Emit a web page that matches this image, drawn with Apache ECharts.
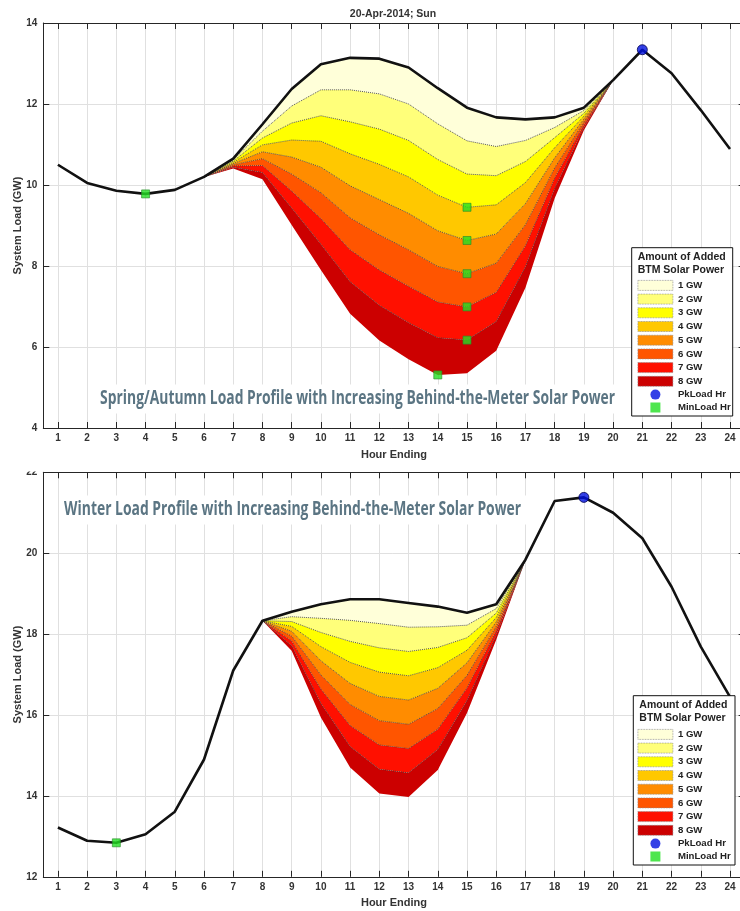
<!DOCTYPE html>
<html>
<head>
<meta charset="utf-8">
<script src="https://cdn.jsdelivr.net/npm/echarts@6/dist/echarts.min.js"></script>
<style>
  html, body { margin: 0; padding: 0; background: #fff; }
  #chart { width: 740px; height: 911px; }
</style>
</head>
<body>
<div id="chart"></div>
<script>
var hours = [1, 2, 3, 4, 5, 6, 7, 8, 9, 10, 11, 12, 13, 14, 15, 16, 17, 18, 19, 20, 21, 22, 23, 24];
var gwNames = ['1 GW', '2 GW', '3 GW', '4 GW', '5 GW', '6 GW', '7 GW', '8 GW'];
var gwColors = ['#ffffd9', '#ffff7a', '#ffff00', '#ffc800', '#ff8c00', '#ff5500', '#ff1000', '#cc0000'];

// spring / autumn day, GW
var springTicks = [4, 6, 8, 10, 12, 14];
var springLoad = [10.50, 10.05, 9.86, 9.78, 9.88, 10.20, 10.65, 11.50, 12.37, 12.98, 13.14, 13.12,
                  12.90, 12.39, 11.91, 11.67, 11.62, 11.67, 11.91, 12.59, 13.34, 12.76, 11.85, 10.89];
var springFirstHour = 6; // level arrays start at this hour
var spring1GW = [10.20, 10.62, 11.33, 11.95, 12.35, 12.35, 12.25, 12.00, 11.51, 11.09, 10.95, 11.10, 11.42, 11.84, 12.59];
var spring2GW = [10.20, 10.59, 11.16, 11.53, 11.71, 11.56, 11.38, 11.10, 10.63, 10.27, 10.23, 10.58, 11.17, 11.77, 12.59];
var spring3GW = [10.20, 10.56, 10.99, 11.11, 11.08, 10.77, 10.51, 10.20, 9.75, 9.45, 9.51, 10.06, 10.92, 11.70, 12.59];
var spring4GW = [10.20, 10.53, 10.82, 10.69, 10.44, 9.98, 9.64, 9.30, 8.87, 8.63, 8.79, 9.54, 10.67, 11.63, 12.59];
var spring5GW = [10.20, 10.50, 10.65, 10.27, 9.81, 9.19, 8.77, 8.40, 7.99, 7.81, 8.07, 9.02, 10.42, 11.56, 12.59];
var spring6GW = [10.20, 10.47, 10.48, 9.85, 9.17, 8.40, 7.90, 7.50, 7.11, 6.99, 7.35, 8.50, 10.17, 11.49, 12.59];
var spring7GW = [10.20, 10.44, 10.31, 9.43, 8.54, 7.61, 7.03, 6.60, 6.23, 6.17, 6.63, 7.98, 9.92, 11.42, 12.59];
var spring8GW = [10.20, 10.41, 10.14, 9.01, 7.90, 6.82, 6.16, 5.70, 5.31, 5.35, 5.91, 7.46, 9.67, 11.35, 12.59];

// winter day, GW
var winterTicks = [12, 14, 16, 18, 20, 22];
var winterLoad = [13.22, 12.89, 12.84, 13.05, 13.61, 14.90, 17.10, 18.33, 18.55, 18.74, 18.86, 18.86,
                  18.77, 18.68, 18.53, 18.74, 19.84, 21.29, 21.38, 21.00, 20.37, 19.17, 17.69, 16.45];
var winterFirstHour = 8;
var winter1GW = [18.33, 18.43, 18.39, 18.34, 18.26, 18.17, 18.18, 18.22, 18.63, 19.84];
var winter2GW = [18.33, 18.31, 18.04, 17.82, 17.66, 17.57, 17.67, 17.91, 18.52, 19.84];
var winter3GW = [18.33, 18.19, 17.69, 17.30, 17.06, 16.97, 17.17, 17.60, 18.41, 19.84];
var winter4GW = [18.33, 18.07, 17.34, 16.78, 16.46, 16.37, 16.66, 17.29, 18.30, 19.84];
var winter5GW = [18.33, 17.95, 16.99, 16.26, 15.86, 15.77, 16.16, 16.98, 18.19, 19.84];
var winter6GW = [18.33, 17.83, 16.64, 15.74, 15.26, 15.17, 15.65, 16.67, 18.08, 19.84];
var winter7GW = [18.33, 17.71, 16.29, 15.22, 14.66, 14.57, 15.15, 16.36, 17.97, 19.84];
var winter8GW = [18.33, 17.59, 15.94, 14.70, 14.06, 13.97, 14.64, 16.05, 17.86, 19.84];

var springNote = 'Spring/Autumn Load Profile with Increasing Behind-the-Meter Solar Power';
var winterNote = 'Winter Load Profile with Increasing Behind-the-Meter Solar Power';

var axisColor = '#262626';
var textColor = '#333';
var boldFont = 'Liberation Sans';
var noteFont = 'bold 19px "Open Sans", sans-serif';

function fullLevel(load, first, part) {
    return load.map(function (v, i) {
        var k = i + 1 - first;
        return (k >= 0 && k < part.length) ? part[k] : v;
    });
}

function pairs(xs, ys) {
    return ys.map(function (y, i) { return [xs[i], y]; });
}

function panelSeries(idx, load, first, parts) {
    var levels = parts.map(function (p) { return fullLevel(load, first, p); });
    var uppers = [load].concat(levels);
    var list = [];
    var ax = { xAxisIndex: idx * 3, yAxisIndex: idx * 2 };
    var catAx = { xAxisIndex: idx * 3 + 2, yAxisIndex: idx * 2 };

    // stacked bands on the hidden category axis
    list.push(Object.assign({
        name: 'base' + idx, type: 'line', stack: 'solar' + idx,
        data: levels[7], showSymbol: false, silent: true,
        lineStyle: { width: 0 }, z: 2
    }, catAx));
    for (var k = 7; k >= 0; k--) {
        var band = hours.map(function (h, i) { return +(uppers[k][i] - levels[k][i]).toFixed(4); });
        list.push(Object.assign({
            name: gwNames[k], type: 'line', stack: 'solar' + idx, data: band,
            showSymbol: false, silent: true, color: gwColors[k],
            lineStyle: { width: 0 }, areaStyle: { color: gwColors[k], opacity: 1 }, z: 2
        }, catAx));
    }
    // dotted edges between the bands
    var partHours = hours.slice(first - 1, first - 1 + parts[0].length);
    for (var j = 0; j < 7; j++) {
        list.push(Object.assign({
            name: 'edge' + idx + j, type: 'line', data: pairs(partHours, parts[j]),
            showSymbol: false, silent: true,
            lineStyle: { type: 'dotted', color: '#3a3a3a', width: 1, opacity: 0.85 }, z: 3
        }, ax));
    }
    list.push(Object.assign({
        name: 'load' + idx, type: 'line', data: pairs(hours, load), showSymbol: false,
        silent: true, lineStyle: { color: '#111', width: 2.6 }, z: 4
    }, ax));

    // peak hour of the load, and min hour of the load and of every solar level
    var pk = load.indexOf(Math.max.apply(null, load));
    var mins = [];
    uppers.forEach(function (arr) {
        var m = arr.indexOf(Math.min.apply(null, arr));
        var found = mins.some(function (p) { return p[0] === hours[m] && p[1] === arr[m]; });
        if (!found) mins.push([hours[m], arr[m]]);
    });
    list.push(Object.assign({
        name: 'PkLoad Hr', type: 'scatter', data: [[hours[pk], load[pk]]], symbol: 'circle',
        symbolSize: 10, itemStyle: { color: '#0010e0', borderColor: '#000050', borderWidth: 1 }, z: 6
    }, ax));
    list.push(Object.assign({
        name: 'MinLoad Hr', type: 'scatter', data: mins, symbol: 'rect',
        symbolSize: 8, itemStyle: { color: '#22e022', borderColor: '#2a8a2a', borderWidth: 0.8 }, z: 6
    }, ax));
    return list;
}

function xAxes(gridIndex) {
    var common = {
        gridIndex: gridIndex, type: 'value', min: 0.5, max: 24.5, splitNumber: 24,
        axisLine: { show: true, lineStyle: { color: axisColor, width: 1 } },
        axisTick: { show: true, inside: true, length: 6, lineStyle: { color: axisColor } }
    };
    return [
        Object.assign({}, common, {
            position: 'bottom',
            name: 'Hour Ending', nameLocation: 'middle', nameGap: 21,
            nameTextStyle: { color: textColor, fontSize: 11, fontWeight: 'bold', fontFamily: boldFont },
            axisLabel: {
                margin: 5, color: textColor, fontSize: 10, fontWeight: 'bold', fontFamily: boldFont,
                formatter: function (v) { return Number.isInteger(v) ? String(v) : ''; }
            },
            splitLine: { show: true, lineStyle: { color: '#e0e0e0', width: 1 } }
        }),
        Object.assign({}, common, {
            position: 'top', axisLabel: { show: false }, splitLine: { show: false }
        }),
        { gridIndex: gridIndex, type: 'category', data: hours, boundaryGap: true, show: false }
    ];
}

function yAxes(gridIndex, ticks) {
    var common = {
        gridIndex: gridIndex, type: 'value', min: ticks[0], max: ticks[ticks.length - 1],
        interval: ticks[1] - ticks[0],
        axisLine: { show: true, lineStyle: { color: axisColor, width: 1 } },
        axisTick: { show: true, inside: true, length: 6, lineStyle: { color: axisColor } }
    };
    return [
        Object.assign({}, common, {
            position: 'left',
            name: 'System Load (GW)', nameLocation: 'middle', nameGap: 20, nameMoveOverlap: false,
            nameTextStyle: { color: textColor, fontSize: 11, fontWeight: 'bold', fontFamily: boldFont },
            axisLabel: { margin: 6, color: textColor, fontSize: 10, fontWeight: 'bold', fontFamily: boldFont },
            splitLine: { show: true, lineStyle: { color: '#e0e0e0', width: 1 } }
        }),
        Object.assign({}, common, {
            position: 'right', axisLabel: { show: false }, splitLine: { show: false }
        })
    ];
}

function legendFor(top) {
    var items = gwNames.map(function (n, i) {
        return {
            name: n, icon: 'rect',
            itemStyle: { color: gwColors[i], borderColor: '#8a8a8a', borderWidth: 0.8, borderType: 'dotted' }
        };
    });
    items.push({ name: 'PkLoad Hr', icon: 'circle', itemStyle: { borderWidth: 0 } });
    items.push({ name: 'MinLoad Hr', icon: 'path://M0,0h10v10h-10z', itemStyle: { borderWidth: 0 } });
    return {
        data: items, orient: 'vertical', left: 637.5, top: top, padding: 0,
        itemWidth: 35, itemHeight: 10, itemGap: 2.9, selectedMode: false, z: 20,
        textStyle: { color: '#222', fontSize: 9.6, fontWeight: 'bold', fontFamily: boldFont, lineHeight: 10 }
    };
}

function legendBox(x, y, w, h) {
    return [
        { type: 'rect', shape: { x: x, y: y, width: w, height: h }, z: 10,
          style: { fill: '#fff', stroke: '#111', lineWidth: 1 } },
        { type: 'text', x: x + 6, y: y + 3, z: 21,
          style: { text: 'Amount of Added\nBTM Solar Power', fill: '#222', lineHeight: 13,
                   font: 'bold 10.5px ' + boldFont } }
    ];
}

// condensed look: squeeze the note text to the width it has in the figure
function note(text, x, y, width) {
    var ctx = document.createElement('canvas').getContext('2d');
    ctx.font = noteFont;
    var sx = width / ctx.measureText(text).width;
    return {
        type: 'text', x: x, y: y, z: 12, scaleX: sx,
        style: {
            text: text, fill: '#5b7583', font: noteFont,
            backgroundColor: '#fff', padding: [5, 7], verticalAlign: 'middle'
        }
    };
}

var chart = echarts.init(document.getElementById('chart'));

var option = {
    animation: false,
    backgroundColor: '#fff',
    grid: [
        { left: 43.3, top: 23, width: 701.3, height: 405, outerBoundsMode: 'none' },
        { left: 43.3, top: 472.3, width: 701.3, height: 404.5, outerBoundsMode: 'none' }
    ],
    xAxis: xAxes(0).concat(xAxes(1)),
    yAxis: yAxes(0, springTicks).concat(yAxes(1, winterTicks)),
    legend: [legendFor(280), legendFor(729)],
    graphic: [
        { type: 'text', x: 393, y: 14, z: 12,
          style: { text: '20-Apr-2014; Sun', fill: textColor, font: 'bold 10.5px ' + boldFont,
                   align: 'center', verticalAlign: 'middle' } },
        note(springNote, 95, 399, 515),
        note(winterNote, 59, 510, 457),
        { type: 'rect', shape: { x: 18, y: 459, width: 24, height: 12.5 }, z: 30,
          style: { fill: '#fff' } }
    ].concat(legendBox(631.7, 247.7, 101, 168.3)).concat(legendBox(633.3, 695.7, 101.7, 169.3)),
    series: panelSeries(0, springLoad, springFirstHour,
                        [spring1GW, spring2GW, spring3GW, spring4GW, spring5GW, spring6GW, spring7GW, spring8GW])
        .concat(panelSeries(1, winterLoad, winterFirstHour,
                        [winter1GW, winter2GW, winter3GW, winter4GW, winter5GW, winter6GW, winter7GW, winter8GW]))
};

chart.setOption(option);
</script>
</body>
</html>
